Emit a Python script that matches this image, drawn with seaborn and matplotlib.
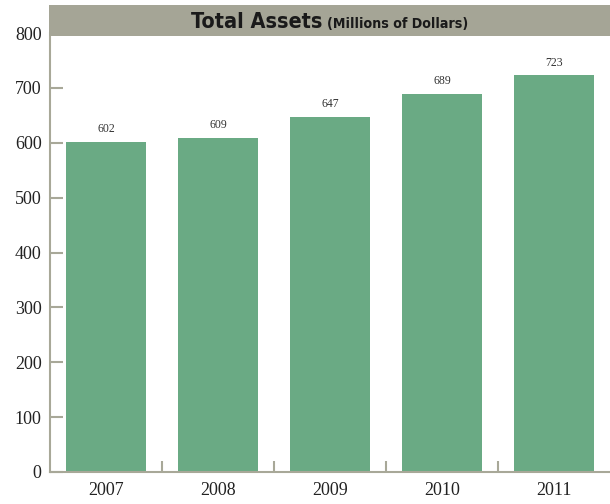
import pandas as pd
import matplotlib.pyplot as plt
import matplotlib.patches as mpatches
import seaborn as sns

years = ['2007', '2008', '2009', '2010', '2011']
assets = [602, 609, 647, 689, 723]

df = pd.DataFrame({'year': years, 'assets': assets})

sns.set_style('white')
plt.rcParams['font.family'] = ['Liberation Serif', 'DejaVu Serif']

fig = plt.figure(figsize=(6.1, 5.04), dpi=100)
ax = fig.add_axes([0.082, 0.0635, 0.918, 0.871])

sns.barplot(data=df, x='year', y='assets', color='#6aaa84', saturation=1,
            width=0.72, linewidth=0, ax=ax)

ax.set_xlim(-0.5, 4.5)
ax.set_ylim(0, 800)
ax.set_yticks(range(0, 801, 100))
ax.set_xlabel('')
ax.set_ylabel('')

# value labels above each bar
for i, v in enumerate(assets):
    ax.text(i, v + 12, str(v), ha='center', va='bottom', fontsize=8.5, color='#333333')

spine_col = '#a8a898'
for s in ['top', 'right']:
    ax.spines[s].set_visible(False)
for s in ['left', 'bottom']:
    ax.spines[s].set_color(spine_col)
    ax.spines[s].set_linewidth(1.5)

# y ticks point inward, x ticks sit between the bars
ax.tick_params(axis='y', left=True, direction='in', length=9.5, width=1.5, color=spine_col,
               labelsize=13, labelcolor='#222222', pad=6)
ax.set_xticks([0.5, 1.5, 2.5, 3.5], minor=True)
ax.set_xticks(range(len(years)))
ax.set_xticklabels(years)
ax.tick_params(axis='x', which='major', bottom=False, labelsize=13, labelcolor='#222222', pad=4)
ax.tick_params(axis='x', which='minor', bottom=True, direction='in', length=8, width=1.5,
               color=spine_col)

# title band
band = mpatches.Rectangle((49 / 610, 1 - 36 / 504), 1 - 49 / 610, 31 / 504,
                          transform=fig.transFigure, facecolor='#a5a596',
                          edgecolor='none', zorder=5)
fig.patches.append(band)
title_font = dict(family=['DejaVu Sans'], stretch='condensed', fontweight='bold',
                  color='#1a1a1a', zorder=6, va='baseline')
fig.text(322 / 610, 1 - 28 / 504, 'Total Assets', ha='right', fontsize=15.5, **title_font)
fig.text(327 / 610, 1 - 28 / 504, '(Millions of Dollars)', ha='left', fontsize=10.2,
         **title_font)

fig.savefig('out.png', dpi=100)
